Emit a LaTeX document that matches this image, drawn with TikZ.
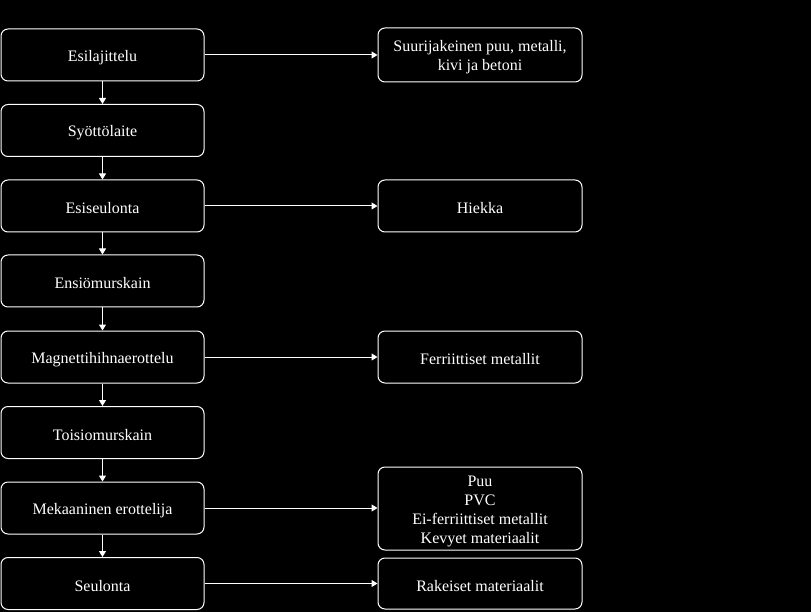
\documentclass[tikz,border=0pt]{standalone}
\usepackage{fontspec}
\setmainfont{Liberation Serif}
\usetikzlibrary{arrows.meta}
\begin{document}
\begin{tikzpicture}[x=1pt,y=-1pt,
  box/.style={draw=white, line width=1pt, rounded corners=7pt, fill=black, inner sep=0pt},
  lbox/.style={box, minimum width=203pt, minimum height=52pt},
  rbox/.style={box, minimum width=204pt},
  txt/.style={text=white, align=center, inner sep=0pt, font=\fontsize{16}{19}\selectfont},
  arr/.style={draw=white, line width=1pt, -{Triangle[width=7pt,length=6pt]}}]
\fill[black] (0,0) rectangle (811,612);
\useasboundingbox (0,0) rectangle (811,612);
\node[lbox] (a) at (102.5,55) {};
\node[lbox] (b) at (102.5,130.5) {};
\node[lbox] (c) at (102.5,206) {};
\node[lbox] (d) at (102.5,281) {};
\node[lbox] (e) at (102.5,357) {};
\node[lbox] (f) at (102.5,432.5) {};
\node[lbox] (g) at (102.5,508) {};
\node[lbox] (h) at (102.5,583.5) {};
\node[rbox, minimum height=54pt] (ra) at (480,55) {};
\node[rbox, minimum height=52pt] (rc) at (480,206) {};
\node[rbox, minimum height=52pt] (re) at (480,357) {};
\node[rbox, minimum height=83pt] (rg) at (480,508.5) {};
\node[rbox, minimum height=51pt] (rh) at (480,583.5) {};
\node[txt] (ta) at ([yshift=-2.5pt]a.center) {Esilajittelu};
\node[txt] (tb) at ([yshift=-2.5pt]b.center) {Syöttölaite};
\node[txt] (tc) at ([yshift=-2.5pt]c.center) {Esiseulonta};
\node[txt] (td) at ([yshift=-2.5pt]d.center) {Ensiömurskain};
\node[txt] (te) at ([yshift=-2.5pt]e.center) {Magnettihihnaerottelu};
\node[txt] (tf) at ([yshift=-2.5pt]f.center) {Toisiomurskain};
\node[txt] (tg) at ([yshift=-2.5pt]g.center) {Mekaaninen erottelija};
\node[txt] (th) at ([yshift=-2.5pt]h.center) {Seulonta};
\node[txt] (tra) at ([yshift=-2.5pt]ra.center) {Suurijakeinen puu, metalli,\\kivi ja betoni};
\node[txt] (trc) at ([yshift=-2.5pt]rc.center) {Hiekka};
\node[txt] (tre) at ([yshift=-2.5pt]re.center) {Ferriittiset metallit};
\node[txt] (trg) at ([yshift=-2.5pt]rg.center) {Puu\\PVC\\Ei-ferriittiset metallit\\Kevyet materiaalit};
\node[txt] (trh) at ([yshift=-2.5pt]rh.center) {Rakeiset materiaalit};
\draw[arr] (a) -- (b);
\draw[arr] (b) -- (c);
\draw[arr] (c) -- (d);
\draw[arr] (d) -- (e);
\draw[arr] (e) -- (f);
\draw[arr] (f) -- (g);
\draw[arr] (g) -- (h);
\draw[arr] (a.east) -- (a.east -| ra.west);
\draw[arr] (c.east) -- (c.east -| rc.west);
\draw[arr] (e.east) -- (e.east -| re.west);
\draw[arr] (g.east) -- (g.east -| rg.west);
\draw[arr] (h.east) -- (h.east -| rh.west);
\end{tikzpicture}
\end{document}
